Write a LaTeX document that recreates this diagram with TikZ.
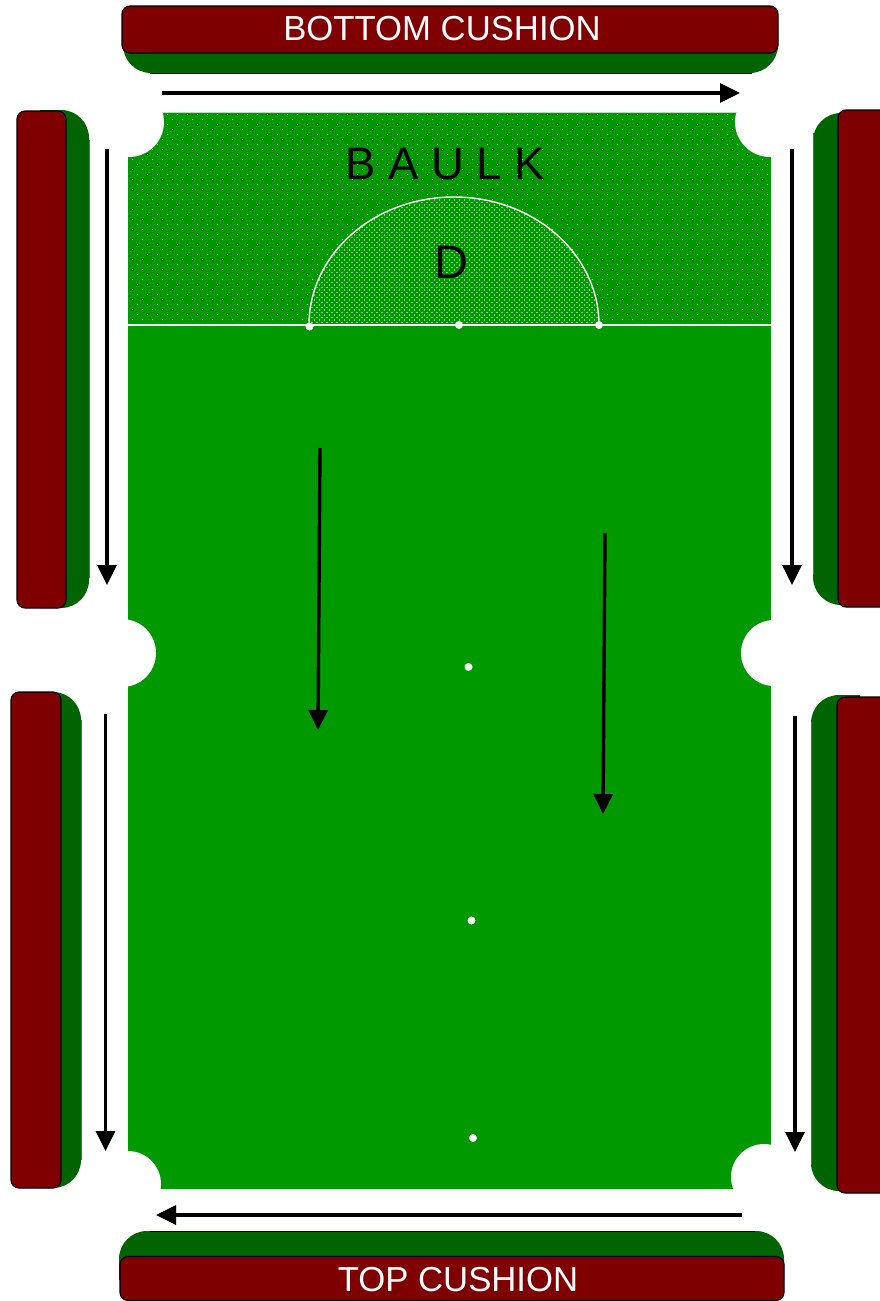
\documentclass[tikz,border=0pt]{standalone}
\usepackage{fontspec}
\setmainfont{Liberation Sans}
\usetikzlibrary{arrows.meta}
\definecolor{felt}{HTML}{009900}
\definecolor{rail}{HTML}{006400}
\definecolor{leather}{HTML}{7F0000}
\begin{document}
\begin{tikzpicture}[x=1pt,y=-1pt,
    redrail/.style={draw=black, line width=1.1pt, fill=leather, rounded corners=8pt, inner sep=0pt},
    greenrail/.style={fill=rail},
    railedge/.style={draw=black, line width=0.7pt},
    sideedge/.style={draw=black!60, line width=0.5pt},
    pocket/.style={fill=white},
    spot/.style={circle, fill=white, inner sep=0pt, minimum size=8pt},
    runarrow/.style={line width=3.4pt, -{Triangle[length=20pt,width=19pt]}},
    railtext/.style={text=white, font=\fontsize{34.7}{36}\selectfont},
    tabletext/.style={text=black, font=\fontsize{47}{47}\selectfont}]
    \useasboundingbox (0,0) rectangle (880,1301);
    \fill[white] (0,0) rectangle (880,1301);

    % table
    \fill[felt] (128,112) rectangle (771,1189);
    \begin{scope}
        \clip (128,112) rectangle (771,325);
        \foreach \row in {0,...,42} {
            \pgfmathsetmacro{\rowshift}{mod(\row,2)*5}
            \foreach \col in {0,...,64}
                \fill[white] ({127.5+\col*10+\rowshift},{114.5+\row*5}) circle (0.7);
        }
    \end{scope}
    \fill[felt] (309,325) arc[start angle=180, end angle=360, x radius=145, y radius=128] -- cycle;
    \begin{scope}
        \clip (309,325) arc[start angle=180, end angle=360, x radius=145, y radius=128] -- cycle;
        \foreach \row in {0,...,52} {
            \pgfmathsetmacro{\rowshift}{mod(\row,2)*2.5}
            \foreach \col in {0,...,58}
                \fill[white] ({309.5+\col*5+\rowshift},{325-\row*2.5}) circle (0.7);
        }
    \end{scope}
    \draw[white, line width=1.2pt] (128,325) -- (771,325);
    \draw[white, line width=1.4pt] (309,325) arc[start angle=180, end angle=360, x radius=145, y radius=128];
    \draw[white, opacity=0.7, line width=1pt] (162,112) -- (736,112);

    % pockets
    \fill[pocket] (129,122) circle (35);
    \fill[pocket] (770,122) circle (35);
    \fill[pocket] (122,653) circle (34);
    \fill[pocket] (774,653) circle (33);
    \fill[pocket] (128,1184) circle (33);
    \fill[pocket] (764,1177) circle (33);
    \fill[white] (100,1189) rectangle (800,1200);

    % green rails
    \fill[greenrail] (123,30) -- (123,45) arc[start angle=180, end angle=90, radius=28] -- (750,73) arc[start angle=90, end angle=0, radius=28] -- (778,30) -- cycle;
    \fill[greenrail] (40,110) -- (61,110) arc[start angle=-90, end angle=0, radius=28] -- (89,580) arc[start angle=0, end angle=90, radius=28] -- (40,608) -- cycle;
    \fill[greenrail] (35,692) -- (53,692) arc[start angle=-90, end angle=0, radius=28] -- (81,1160) arc[start angle=0, end angle=90, radius=28] -- (35,1188) -- cycle;
    \fill[greenrail] (860,113) -- (841,113) arc[start angle=-90, end angle=-180, radius=28] -- (813,577) arc[start angle=180, end angle=90, radius=28] -- (860,605) -- cycle;
    \fill[greenrail] (860,695) -- (839,695) arc[start angle=-90, end angle=-180, radius=28] -- (811,1163) arc[start angle=180, end angle=90, radius=28] -- (860,1191) -- cycle;
    \fill[greenrail] (119,1280) -- (119,1259) arc[start angle=180, end angle=270, radius=28] -- (756,1231) arc[start angle=-90, end angle=0, radius=28] -- (784,1280) -- cycle;

    % thin edges of the green rails
    \draw[railedge] (150,73) -- (752,73);
    \draw[railedge] (150,1231) -- (755,1231);
    \draw[sideedge] (89,140) -- (89,578);
    \draw[sideedge] (81,720) -- (81,1160);
    \draw[sideedge] (813,133) -- (813,575);
    \draw[sideedge] (811,722) -- (811,1165);

    % red rails
    \node[redrail, minimum width=656pt, minimum height=47pt] (bottomrail) at (450,29.5) {};
    \node[railtext] (bottomlabel) at (442,29) {BOTTOM CUSHION};
    \node[redrail, minimum width=49pt, minimum height=497pt] (leftup) at (41.5,359.5) {};
    \node[redrail, minimum width=50pt, minimum height=496pt] (leftdown) at (36,940) {};
    \node[redrail, minimum width=60pt, minimum height=497pt] (rightup) at (868,358.5) {};
    \node[redrail, minimum width=60pt, minimum height=496pt] (rightdown) at (867,945) {};
    \node[redrail, minimum width=664pt, minimum height=44pt] (toprail) at (452,1278.5) {};
    \node[railtext] (toplabel) at (458,1279.5) {TOP CUSHION};

    % labels
    \node[tabletext, font=\fontsize{45.5}{47}\selectfont] (baulk) at (445,164.5) {B A U L K};
    \node[tabletext] (dlabel) at (451,262) {D};

    % spots
    \node[spot] (dleft) at (309.5,326.5) {};
    \node[spot] (brown) at (459,325) {};
    \node[spot] (dright) at (599,325) {};
    \node[spot] (blue) at (468.5,667) {};
    \node[spot] (pink) at (471.5,920.5) {};
    \node[spot] (black) at (473,1138) {};

    % arrows
    \coordinate (a1) at (162,93);
    \coordinate (a2) at (740,93);
    \coordinate (b1) at (107,149);
    \coordinate (b2) at (107,585);
    \coordinate (c1) at (792,149);
    \coordinate (c2) at (792,585);
    \coordinate (d1) at (105.5,714);
    \coordinate (d2) at (105.5,1151);
    \coordinate (e1) at (795,716);
    \coordinate (e2) at (795,1152);
    \coordinate (f1) at (742,1215);
    \coordinate (f2) at (156,1215);
    \coordinate (g1) at (320,448);
    \coordinate (g2) at (318,730);
    \coordinate (h1) at (605,533);
    \coordinate (h2) at (603,814);
    \foreach \s/\t in {a1/a2,b1/b2,c1/c2,d1/d2,e1/e2,f1/f2,g1/g2,h1/h2}
        \draw[runarrow] (\s) -- (\t);
\end{tikzpicture}
\end{document}
